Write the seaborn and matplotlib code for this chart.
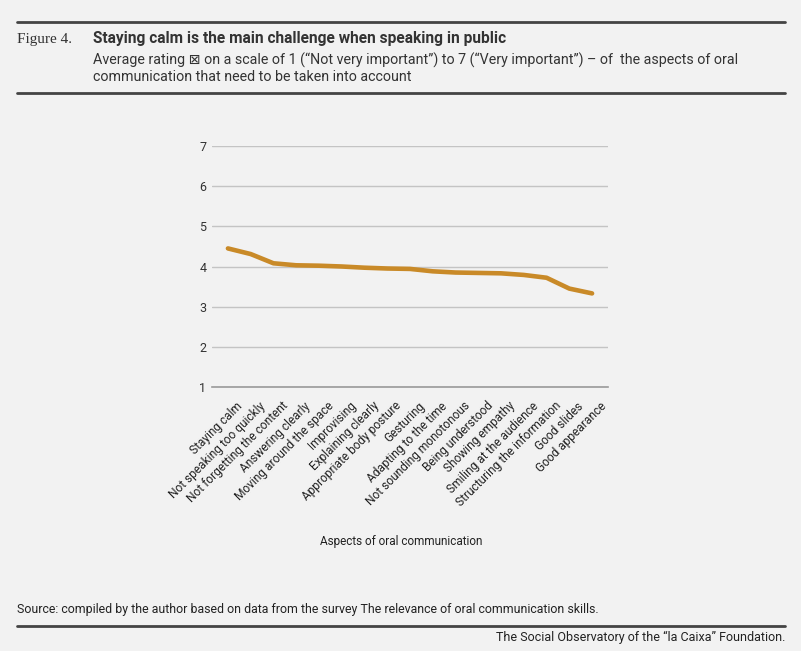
import matplotlib
matplotlib.use("Agg")
import matplotlib.pyplot as plt
import matplotlib.transforms as mtransforms
from matplotlib import font_manager
import seaborn as sns
import pandas as pd

# Datos
aspectos = [
    "Staying calm", "Not speaking too quickly", "Not forgetting the content",
    "Answering clearly", "Moving around the space", "Improvising",
    "Explaining clearly", "Appropriate body posture", "Gesturing",
    "Adapting to the time", "Not sounding monotonous", "Being understood",
    "Showing empathy", "Smiling at the audience", "Structuring the information",
    "Good slides", "Good appearance",
]
valoracion = [4.45, 4.31, 4.08, 4.03, 4.02, 4.00, 3.97, 3.95, 3.94,
              3.88, 3.85, 3.84, 3.83, 3.79, 3.72, 3.45, 3.33]
ticks_y = [1, 2, 3, 4, 5, 6, 7]

df = pd.DataFrame({"aspecto": aspectos, "valor": valoracion})
df["pos"] = range(len(df))

sns.set_theme(style="white")
nombres = {f.name for f in font_manager.fontManager.ttflist}
narrow = "Liberation Sans Narrow" if "Liberation Sans Narrow" in nombres else "Roboto"
plt.rcParams["font.family"] = ["Roboto", "DejaVu Sans"]

fondo = "#f2f2f2"
fig = plt.figure(figsize=(8.01, 6.51), dpi=100, facecolor=fondo)
ax = fig.add_axes([212 / 801, 1 - 387 / 651, 396 / 801, 241 / 651])
ax.set_facecolor(fondo)

sns.lineplot(data=df, x="pos", y="valor", color="#c98a28", linewidth=3.3,
             ax=ax, solid_capstyle="round")

ax.set_xlim(-0.7, len(df) - 0.3)
ax.set_ylim(1, 7)
ax.set_yticks(ticks_y)
ax.set_yticklabels([str(t) for t in ticks_y], fontsize=9, color="#333333")
ax.yaxis.grid(True, color="#c4c4c4", linewidth=1)
for s in ["top", "right", "left"]:
    ax.spines[s].set_visible(False)
ax.spines["bottom"].set_color("#9a9a9a")
ax.spines["bottom"].set_linewidth(1.2)
ax.tick_params(axis="y", length=0, pad=4)
ax.tick_params(axis="x", length=0, pad=9)

ax.set_xticks(df["pos"])
ax.set_xticklabels(df["aspecto"], rotation=45, ha="right", va="top",
                   fontsize=8.6, color="#222222")
desplaza = mtransforms.ScaledTranslation(17 / 100, 0, fig.dpi_scale_trans)
for lab in ax.get_xticklabels():
    lab.set_transform(lab.get_transform() + desplaza)
ax.set_xlabel("")
ax.set_ylabel("")

fig.text(401 / 801, 1 - 541 / 651, "Aspects of oral communication",
         ha="center", va="center", fontsize=8.5, color="#222222")

# Cabecera
raya = "#444444"
fig.add_artist(plt.Line2D([17 / 801, 785 / 801], [1 - 22 / 651] * 2,
                          color=raya, linewidth=2))
fig.add_artist(plt.Line2D([17 / 801, 785 / 801], [1 - 93 / 651] * 2,
                          color=raya, linewidth=2))
fig.add_artist(plt.Line2D([17 / 801, 785 / 801], [1 - 626 / 651] * 2,
                          color=raya, linewidth=2))

fig.text(17 / 801, 1 - 39 / 651, "Figure 4.", family=["Liberation Serif", "DejaVu Serif"],
         fontsize=11, color="#333333", va="center")
fig.text(93 / 801, 1 - 39 / 651,
         "Staying calm is the main challenge when speaking in public",
         family=[narrow, "DejaVu Sans"], fontweight="bold", fontsize=11.2,
         color="#333333", va="center")
fig.text(93 / 801, 1 - 60 / 651,
         "Average rating \u22a0 on a scale of 1 (\u201cNot very important\u201d) to 7 "
         "(\u201cVery important\u201d) \u2013 of  the aspects of oral",
         family=[narrow, "DejaVu Sans"], fontsize=10.3, color="#333333", va="center")
fig.text(93 / 801, 1 - 77 / 651,
         "communication that need to be taken into account",
         family=[narrow, "DejaVu Sans"], fontsize=10.3, color="#333333", va="center")

# Pie
fig.text(17 / 801, 1 - 610 / 651,
         "Source: compiled by the author based on data from the survey The relevance "
         "of oral communication skills.",
         family=[narrow, "DejaVu Sans"], fontsize=8.9, color="#222222", va="center")
fig.text(785 / 801, 1 - 637 / 651,
         "The Social Observatory of the \u201cla Caixa\u201d Foundation.",
         family=[narrow, "DejaVu Sans"], fontsize=9, color="#222222",
         va="center", ha="right")

fig.savefig("out.png", dpi=100, facecolor=fondo)
